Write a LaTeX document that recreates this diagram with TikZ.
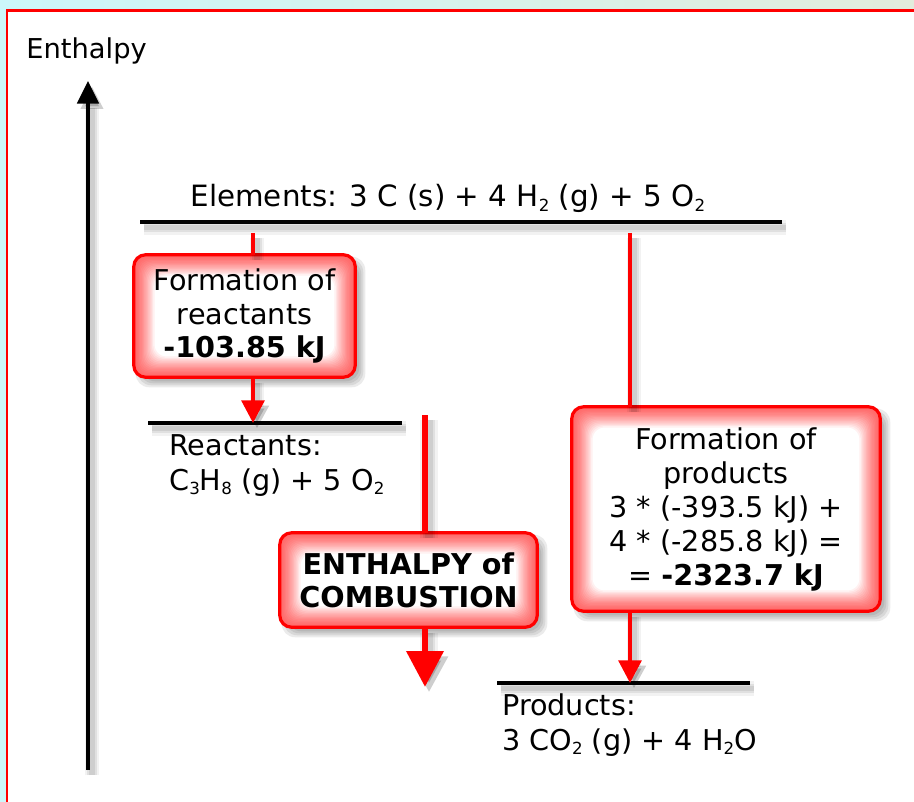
\documentclass[tikz,border=0pt]{standalone}
\usepackage{fontspec}
\setmainfont{DejaVu Sans}
\usetikzlibrary{arrows.meta,calc}
\definecolor{cyanA}{HTML}{CCF7FA}
\definecolor{cyanB}{HTML}{E2ECDC}
\definecolor{redC}{HTML}{FF0000}
\definecolor{pinkC}{HTML}{FF6A6A}
\pgfdeclarelayer{back}
\pgfdeclarelayer{bg}
\pgfsetlayers{back,bg,main}
\newcommand\sbx[1]{\raisebox{-0.15em}{\fontsize{12.5pt}{12.5pt}\selectfont #1}}
\newcommand\glowbox[1]{%
  \begin{pgfonlayer}{bg}
    \foreach \e in {-2,0,2,4}{
      \fill[black, opacity=0.08, rounded corners=10pt]
        ([shift={(6-\e,6-\e)}]#1.north west) rectangle ([shift={(6+\e,6+\e)}]#1.south east);
    }
    \fill[pinkC, rounded corners=9pt] (#1.north west) rectangle (#1.south east);
    \foreach \k in {1,...,16}{
      \pgfmathsetmacro\w{100*(\k/16)^1.5}
      \fill[white!\w!pinkC, rounded corners=9pt]
        ([shift={(\k*1.3,\k*1.3)}]#1.north west) rectangle ([shift={(-\k*1.3,-\k*1.3)}]#1.south east);
    }
    \draw[redC, line width=2.4pt, rounded corners=9pt] (#1.north west) rectangle (#1.south east);
  \end{pgfonlayer}}
\begin{document}
\begin{tikzpicture}[x=0.75pt,y=-0.75pt,
  txt/.style={font=\fontsize{21.5pt}{25pt}\selectfont, inner sep=0pt},
  boxtxt/.style={txt, align=center},
  shd/.style={
    preaction={draw=black, opacity=0.05, line width=#1+8pt, transform canvas={shift={(3pt,-4pt)}}},
    preaction={draw=black, opacity=0.07, line width=#1+4pt, transform canvas={shift={(3pt,-4pt)}}},
    preaction={draw=black, opacity=0.08, line width=#1+1pt, transform canvas={shift={(3pt,-4pt)}}}},
  blackline/.style={draw=black, line width=3pt, shd=3pt},
  redline/.style={draw=redC, line width=3pt, shd=3pt},
  redarrow/.style={redline, -{Triangle[width=17pt,length=17pt]}},
  bigarrow/.style={draw=redC, line width=5.2pt, shd=5.2pt, -{Triangle[width=27pt,length=27pt]}},
  axis/.style={draw=black, line width=3pt, shd=3pt, -{Triangle[width=16pt,length=17pt]}}
]
% background and frame
\useasboundingbox (0,0) rectangle (914,802);
\begin{pgfonlayer}{back}
\fill[white] (0,0) rectangle (914,802);
\shade[left color=cyanA, right color=cyanB] (0,0) rectangle (914,9.5);
\fill[cyanA] (0,0) rectangle (6,802);
\draw[redC, line width=1.6pt] (7,802) -- (7,10.5) -- (914,10.5);
\end{pgfonlayer}

% axis
\coordinate (axb) at (88,770);
\coordinate (axt) at (88,81);
\draw[axis] (axb) -- (axt);
\node[txt, anchor=base west, font=\fontsize{20.5pt}{20.5pt}\selectfont] (enth) at (26,59) {Enthalpy};

% levels
\coordinate (elL) at (140,222);
\coordinate (elR) at (782,222);
\draw[blackline] (elL) -- (elR);
\node[txt, anchor=base, font=\fontsize{22pt}{25pt}\selectfont] (elt) at (448,207) {Elements: 3 C (s) + 4 H\sbx{2} (g) + 5 O\sbx{2}};

\coordinate (reL) at (148,423);
\coordinate (reR) at (402,423);
\draw[blackline] (reL) -- (reR);
\node[txt, anchor=base west] (r1) at (169,455) {Reactants:};
\node[txt, anchor=base west] (r2) at (169,490) {C\sbx{3}H\sbx{8} (g) + 5 O\sbx{2}};

\coordinate (prL) at (497,683);
\coordinate (prR) at (750,683);
\draw[blackline] (prL) -- (prR);
\node[txt, anchor=base west] (p1) at (502,715) {Products:};
\node[txt, anchor=base west] (p2) at (502,750) {3 CO\sbx{2} (g) + 4 H\sbx{2}O};

% boxes
\node[boxtxt, minimum width=165.75pt, minimum height=91.5pt] (fr) at (244.5,316)
  {Formation of\\reactants\\\textbf{-103.85 kJ}};
\glowbox{fr}
\node[boxtxt, minimum width=192.75pt, minimum height=70.5pt] (comb) at (408.5,580)
  {\textbf{ENTHALPY of}\\\textbf{COMBUSTION}};
\glowbox{comb}
\node[boxtxt, font=\fontsize{21.5pt}{25.5pt}\selectfont, minimum width=231pt, minimum height=153pt] (fp) at (726,509)
  {Formation of\\products\\3 * (-393.5 kJ) +\\4 * (-285.8 kJ) =\\= \textbf{-2323.7 kJ}};
\glowbox{fp}

% connectors
\coordinate (c1) at (253,233);
\draw[redline] (c1) -- (c1 |- fr.north);
\draw[redarrow] (c1 |- fr.south) -- (c1 |- reL);

\coordinate (c3) at (630,233);
\draw[redline] (c3) -- (c3 |- fp.north);
\draw[redarrow] (c3 |- fp.south) -- (c3 |- prL);

\coordinate (c2) at (425,415);
\coordinate (c2e) at (425,687);
\draw[draw=redC, line width=5.2pt, shd=5.2pt] (c2) -- (c2 |- comb.north);
\draw[bigarrow] (c2 |- comb.south) -- (c2e);
\end{tikzpicture}
\end{document}
